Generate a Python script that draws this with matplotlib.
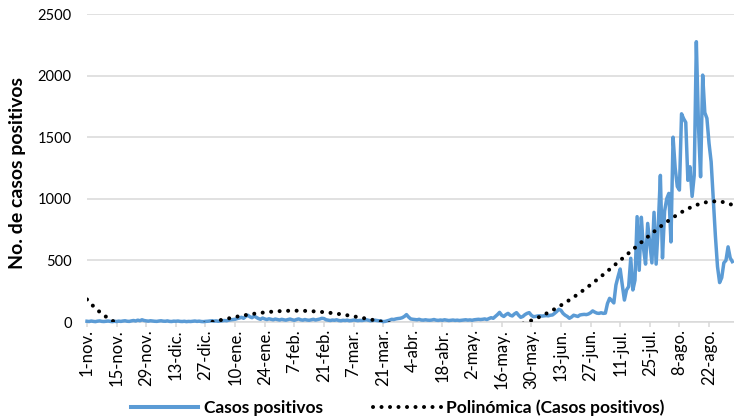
import numpy as np
import pandas as pd
import matplotlib
matplotlib.use("Agg")
import matplotlib.pyplot as plt
from matplotlib.lines import Line2D

plt.rcParams['font.family'] = ['Lato', 'DejaVu Sans']

start_date = "2020-11-01"
casos_positivos = [
    6, 4, 8, 5, 3, 7, 9, 5, 4, 6,
    8, 5, 3, 6, 4, 7, 5, 8, 10, 6,
    5, 9, 12, 8, 15, 10, 18, 12, 9, 7,
    10, 8, 6, 5, 8, 10, 7, 6, 9, 5,
    4, 7, 6, 8, 5, 4, 6, 3, 5, 4,
    6, 8, 5, 7, 4, 3, 5, 6, 8, 10,
    7, 9, 6, 8, 10,
    12, 10, 15, 18, 20, 22, 28, 32, 38, 30, 45, 55, 42, 35, 48, 38, 28, 22, 32, 25, 20, 26, 22, 18, 24,
    20, 16, 22, 18, 15, 20, 24, 18, 14, 20,
    25, 18, 15, 20, 16, 14, 18, 22, 16, 20,
    24, 30, 28, 18, 15, 12, 16, 14, 18, 12,
    10, 14, 12, 15, 10, 12, 16, 14, 11, 13,
    12, 15, 18, 14, 10, 12, 15, 12, 10, 8,
    3, 5, 10, 15, 22, 20, 25, 28, 30, 35,
    45, 60, 40, 25, 22, 20, 18, 22, 16, 15,
    18, 15, 14, 16, 20, 15, 13, 16, 14, 18,
    15, 12, 14, 16, 13, 15, 12, 14, 16, 18,
    15, 17, 14, 18, 20, 22, 20, 22, 25, 20,
    28, 35, 30, 45, 60, 78, 55, 45, 60, 70,
    55, 49, 65, 76, 55, 38, 45, 60, 70, 76,
    55, 43, 45, 49, 50, 48, 50, 52,
    50, 55, 57, 70, 85, 103, 95, 70, 55, 45,
    30, 40, 55, 50, 45, 57, 60, 62, 60, 65,
    75, 90, 80, 72, 70, 75, 70, 72, 150, 192,
    175, 155, 300, 368, 430, 300, 178, 260, 287, 517,
    260, 340, 855, 420, 850, 600, 470, 800, 640, 480,
    890, 470, 780, 1190, 520, 900, 1000, 1044, 650, 1500,
    1250, 1100, 1071, 1690, 1650, 1620, 1150, 1260, 1020, 1190,
    2275, 1600, 1179, 2004, 1700, 1653, 1450, 1300, 1000, 700,
    450, 320, 360, 480, 500, 610, 520, 490,
]
# Trendline ("Polinómica", order 6) values (day index, value)
trend_days = [0, 3, 5.8, 8.8, 11.9, 13, 61.3, 64.9, 68.8, 72.8, 76.6, 80.3, 84.1,
              88, 92, 95.9, 99.8, 103.8, 107.8, 111.6, 115.3, 119.3, 123.2, 127,
              130.8, 134.5, 138.5, 141, 207.8, 211, 214.4, 218, 221.5, 224.8, 228,
              231, 234.3, 237.4, 240.5, 243.7, 246.8, 250, 252.7, 255.7, 258.5,
              261.5, 264.5, 267.5, 270.5, 273.8, 276.8, 280.1, 283.4, 287, 290.6,
              294.6, 298.5, 302.5, 305.6]
trend_vals = [184, 130, 87, 40, 10, 0, 8, 22, 38, 54, 65, 73, 79,
              86, 88, 89, 89, 87, 81, 74, 76, 68, 57, 43,
              30, 16, 8, 0, 3, 16, 43, 76, 108, 143, 178,
              216, 254, 300, 338, 379, 422, 465, 511, 556, 595,
              638, 684, 728, 768, 809, 847, 885, 917, 944, 963,
              977, 977, 966, 944]
tick_labels = ["1-nov.", "15-nov.", "29-nov.", "13-dic.", "27-dic.", "10-ene.",
               "24-ene.", "7-feb.", "21-feb.", "7-mar.", "21-mar.", "4-abr.",
               "18-abr.", "2-may.", "16-may.", "30-may.", "13-jun.", "27-jun.",
               "11-jul.", "25-jul.", "8-ago.", "22-ago."]
y_ticks = [0, 500, 1000, 1500, 2000, 2500]

dates = pd.date_range(start_date, periods=len(casos_positivos), freq="D")
days = np.arange(len(casos_positivos))
vals = np.array(casos_positivos, dtype=float)

poly = np.polynomial.Polynomial.fit(trend_days, trend_vals, 6)
trend = poly(days)

fig = plt.figure(figsize=(7.34, 4.16), dpi=100)
ax = fig.add_axes([87/734, 94/416, 647/734, 308/416])

blue = "#5B9BD5"
dot_style = (0, (0.01, 2.1))
ax.plot(dates, vals, color=blue, lw=2.5, clip_on=False, zorder=3,
        solid_joinstyle="round")
ax.plot(dates, trend, color="black", lw=2.9, linestyle=dot_style,
        dash_capstyle="round", zorder=4)

x0 = dates[0]
ax.set_xlim(x0, x0 + pd.Timedelta(days=305.8))
ax.set_ylim(0, 2500)
ax.set_yticks(y_ticks)
ax.set_yticklabels([str(v) for v in y_ticks])
tick_pos = [x0 + pd.Timedelta(days=14 * i) for i in range(len(tick_labels))]
ax.set_xticks(tick_pos)
ax.set_xticklabels(tick_labels, rotation=90, va="top", ha="center")

for s in ["top", "right", "left"]:
    ax.spines[s].set_visible(False)
ax.spines["bottom"].set_color("#D9D9D9")
ax.spines["bottom"].set_linewidth(1.1)
ax.grid(axis="y", color="#D9D9D9", lw=1.1)
ax.set_axisbelow(True)
ax.tick_params(axis="y", length=0, pad=11, labelsize=10.5, colors="#000000")
ax.tick_params(axis="x", length=3.6, width=1.1, color="#D9D9D9", pad=1.5,
               labelsize=12)

ax.set_ylabel("No. de casos positivos", fontsize=14, fontweight="bold")
ax.yaxis.set_label_coords(-0.0943, 0.485)

handles = [Line2D([], [], color=blue, lw=2.9),
           Line2D([], [], color="black", lw=2.9, linestyle=dot_style,
                  dash_capstyle="round")]
leg = fig.legend(handles, ["Casos positivos", "Polinómica (Casos positivos)"],
                 loc="center", bbox_to_anchor=(397.5/734, 8/416), ncol=2,
                 frameon=False, handlelength=3.9, handletextpad=0.3,
                 columnspacing=2.9, prop={"weight": "bold", "size": 12.5})

fig.savefig("out.png", dpi=100)
